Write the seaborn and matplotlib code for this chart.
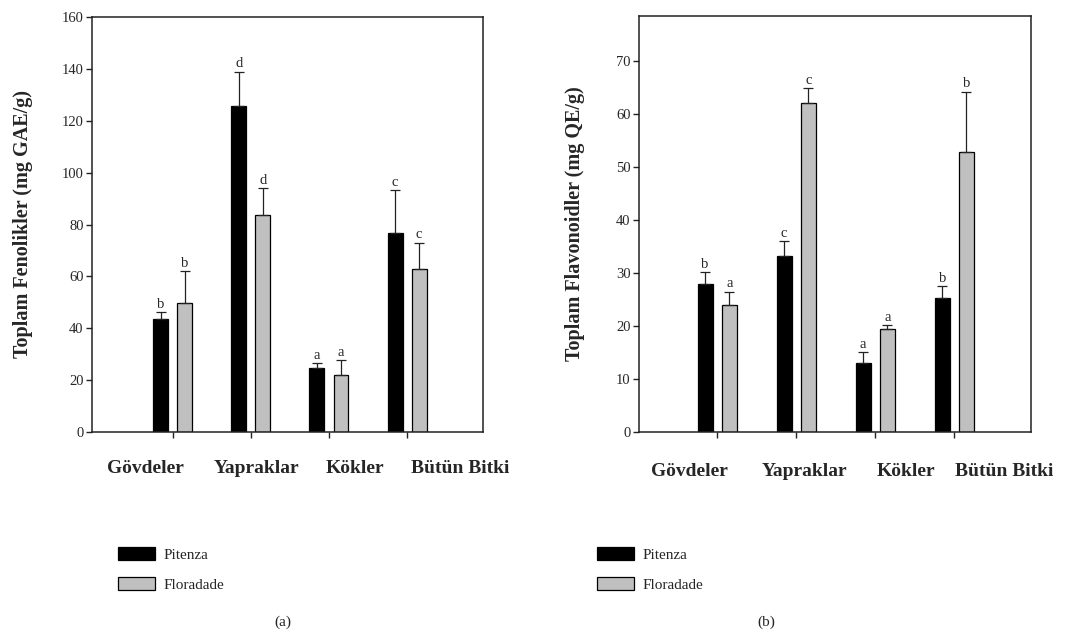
import pandas as pd
import seaborn as sns
import matplotlib.pyplot as plt
from matplotlib.patches import Patch

# values
organs = ['Gövdeler', 'Yapraklar', 'Kökler', 'Bütün Bitki']
varieties = ['Pitenza', 'Floradade']

phenol_pitenza = [43.5, 125.7, 24.6, 76.6]
phenol_floradade = [49.7, 83.6, 22.0, 62.8]
phenol_err_pitenza = [2.8, 13.2, 2.0, 16.7]
phenol_err_floradade = [12.3, 10.4, 5.8, 10.2]
phenol_letters_pitenza = ['b', 'd', 'a', 'c']
phenol_letters_floradade = ['b', 'd', 'a', 'c']

flav_pitenza = [27.9, 33.2, 13.0, 25.3]
flav_floradade = [24.0, 62.1, 19.4, 52.8]
flav_err_pitenza = [2.3, 2.8, 2.1, 2.2]
flav_err_floradade = [2.5, 2.8, 0.8, 11.4]
flav_letters_pitenza = ['b', 'c', 'a', 'b']
flav_letters_floradade = ['a', 'c', 'a', 'b']

colors = {'Pitenza': 'black', 'Floradade': '#c0c0c0'}

sns.set_style('ticks')
plt.rcParams['font.family'] = ['Liberation Serif', 'DejaVu Serif']


def make_df(p, f):
    return pd.DataFrame({
        'organ': organs * 2,
        'variety': ['Pitenza'] * 4 + ['Floradade'] * 4,
        'value': p + f,
    })


def draw_panel(ax, df, errs, letters, ylim, ylabel, xlim, label_x, label_y, label_coord):
    sns.barplot(data=df, x='organ', y='value', hue='variety', order=organs,
                hue_order=varieties, palette=colors, width=0.615, gap=0.38,
                edgecolor='black', linewidth=0.9, errorbar=None, legend=False, ax=ax)
    for cont, err, let in zip(ax.containers, errs, letters):
        xs = [p.get_x() + p.get_width() / 2 for p in cont.patches]
        hs = [p.get_height() for p in cont.patches]
        ax.errorbar(xs, hs, yerr=[[0] * len(err), err], fmt='none',
                    ecolor='#222222', elinewidth=0.9, capsize=3.5, capthick=0.9)
        for x, h, e, l in zip(xs, hs, err, let):
            ax.annotate(l, (x, h + e), xytext=(0, 1), textcoords='offset points',
                        ha='center', va='bottom', fontsize=10.5)
    ax.set_ylim(*ylim)
    ax.set_xlim(*xlim)
    ax.set_xticks(range(len(organs)))
    ax.set_xticklabels([])
    ax.set_xlabel('')
    ax.set_ylabel(ylabel, fontsize=14.5, fontweight='bold')
    ax.yaxis.set_label_coords(label_coord, 0.5)
    for s in ax.spines.values():
        s.set_visible(True)
        s.set_linewidth(1.1)
        s.set_color('#222222')
    ax.tick_params(axis='both', direction='out', length=4, width=1, labelsize=10.5,
                   color='#222222', pad=2)
    for name, lx in zip(organs, label_x):
        ax.text(lx, label_y, name, transform=ax.transAxes, ha='center', va='center',
                fontsize=14, fontweight='bold')


fig = plt.figure(figsize=(10.81, 6.36), dpi=100)
ax1 = fig.add_axes([92 / 1081, 1 - 432 / 636, 391 / 1081, 415 / 636])
ax2 = fig.add_axes([639 / 1081, 1 - 432 / 636, 392 / 1081, 416 / 636])

draw_panel(ax1, make_df(phenol_pitenza, phenol_floradade),
           [phenol_err_pitenza, phenol_err_floradade],
           [phenol_letters_pitenza, phenol_letters_floradade],
           (0, 160), 'Toplam Fenolikler (mg GAE/g)', (-1.03, 3.97),
           [0.136, 0.422, 0.673, 0.941], -0.087, -0.15)
ax1.set_yticks(range(0, 161, 20))

draw_panel(ax2, make_df(flav_pitenza, flav_floradade),
           [flav_err_pitenza, flav_err_floradade],
           [flav_letters_pitenza, flav_letters_floradade],
           (0, 78.5), 'Toplam Flavonoidler (mg QE/g)', (-0.99, 3.97),
           [0.128, 0.421, 0.681, 0.931], -0.096, -0.138)
ax2.set_yticks(range(0, 71, 10))

handles = [Patch(facecolor=colors[v], edgecolor='black', linewidth=0.9) for v in varieties]
for lx in (118 / 1081, 597 / 1081):
    fig.legend(handles, varieties, loc='upper left', bbox_to_anchor=(lx, 1 - 547 / 636),
               frameon=False, fontsize=11, borderpad=0, borderaxespad=0,
               handlelength=2.4, handleheight=0.95, handletextpad=0.6, labelspacing=1.0)

fig.text(283 / 1081, 1 - 622 / 636, '(a)', ha='center', va='center', fontsize=11)
fig.text(766 / 1081, 1 - 622 / 636, '(b)', ha='center', va='center', fontsize=11)

fig.savefig('out.png', dpi=100)
